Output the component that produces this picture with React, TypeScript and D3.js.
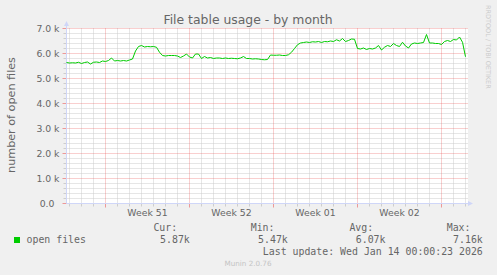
import React from "react";
import * as d3 from "d3";

// ---- data (in thousands of open files, 6-hour samples) ----
const seriesName = "open files";
const sampleStartUTC = Date.UTC(2025, 11, 11, 18, 0, 0);
const sampleStepHours = 6;
const openFilesK = [
  5.64, 5.62, 5.63, 5.62, 5.65, 5.60, 5.64, 5.66, 5.58, 5.65,
  5.66, 5.64, 5.70, 5.68, 5.72, 5.82, 5.70, 5.72, 5.70, 5.72,
  5.70, 5.74, 5.78, 6.10, 6.28, 6.32, 6.26, 6.28, 6.27, 6.28,
  6.25, 6.05, 5.92, 5.90, 5.92, 5.92, 5.92, 5.90, 5.84, 5.90,
  5.98, 5.86, 5.82, 5.98, 5.98, 5.80, 5.88, 5.82, 5.84, 5.80,
  5.82, 5.82, 5.80, 5.82, 5.80, 5.81, 5.80, 5.79, 5.82, 5.88,
  5.80, 5.80, 5.78, 5.79, 5.78, 5.76, 5.75, 5.76, 5.94, 5.93,
  5.93, 5.94, 5.92, 5.92, 5.95, 6.05, 6.20, 6.35, 6.42, 6.44,
  6.46, 6.44, 6.47, 6.46, 6.48, 6.44, 6.48, 6.47, 6.50, 6.48,
  6.55, 6.50, 6.60, 6.48, 6.52, 6.58, 6.57, 6.20, 6.18, 6.22,
  6.16, 6.20, 6.18, 6.22, 6.32, 6.14, 6.25, 6.32, 6.28, 6.40,
  6.32, 6.28, 6.45, 6.30, 6.22, 6.38, 6.42, 6.40, 6.42, 6.44,
  6.76, 6.42, 6.42, 6.40, 6.40, 6.36, 6.48, 6.52, 6.48, 6.56,
  6.54, 6.66, 6.45, 5.87,
];
const yTickValues = [0, 1000, 2000, 3000, 4000, 5000, 6000, 7000];
const yTickLabels = ["0.0", "1.0 k", "2.0 k", "3.0 k", "4.0 k", "5.0 k", "6.0 k", "7.0 k"];
const legendHeaders = ["Cur:", "Min:", "Avg:", "Max:"];
const legendValues = ["5.87k", "5.47k", "6.07k", "7.16k"];
const titleText = "File table usage - by month";
const yAxisTitle = "number of open files";
const lastUpdate = "Last update: Wed Jan 14 00:00:23 2026";
const watermark = "RRDTOOL / TOBI OETIKER";
const credit = "Munin 2.0.76";
const domainStart = new Date(Date.UTC(2025, 11, 11, 18, 0, 0));
const domainEnd = new Date(Date.UTC(2026, 0, 14, 4, 0, 0));

const W = 497;
const H = 275;
const FONT = "DejaVu Sans, sans-serif";
const MONO = "DejaVu Sans Mono, monospace";
const TXT = "#666666";
const AXIS = "#CFD6F8";
const MINOR = "#cdcdcd";
const MAJOR = "rgba(235,80,80,0.55)";

export default function App() {
  const x = d3.scaleUtc().domain([domainStart, domainEnd]).range([66.5, 467.5]);
  const y = d3.scaleLinear().domain([0, 7000]).range([203.5, 28.5]);

  const points = openFilesK.map((v, i) => ({
    t: new Date(sampleStartUTC + i * sampleStepHours * 3600 * 1000),
    v: v * 1000,
  }));
  const line = d3
    .line<{ t: Date; v: number }>()
    .x((d) => x(d.t))
    .y((d) => y(d.v));

  const days = d3.utcDay.range(domainStart, domainEnd);
  const mondays = d3.utcMonday.range(domainStart, domainEnd);
  const isMonday = (d: Date) => d.getUTCDay() === 1;
  const minorDays = days.filter((d) => !isMonday(d));
  const minorY = d3.range(0, 7001, 200).filter((v) => v % 1000 !== 0);
  const weekFmt = d3.utcFormat("Week %V");
  const weekLabels = d3.utcMonday
    .range(d3.utcMonday.offset(domainStart, -1), domainEnd)
    .map((m) => ({ m, c: new Date(m.getTime() + 3.5 * 86400000) }))
    .filter((o) => x(o.c) > 70 && x(o.c) < 465);

  const [x0, x1] = x.range();
  const [yb, yt] = y.range();

  const valueEnds = [189.8, 287.8, 385.5, 482.8];
  const headerEnds = [177.2, 274.5, 373.2, 470.5];

  return (
    <svg
      width={W}
      height={H}
      viewBox={`0 0 ${W} ${H}`}
      style={{ position: "absolute", left: 0, top: 0, display: "block" }}
    >
      <rect x={0} y={0} width={W} height={H} fill="#f0f0f0" />
      <rect x={66} y={28} width={402} height={176} fill="#ffffff" />

      {/* minor grid */}
      {minorY.map((v) => (
        <g key={"my" + v}>
          <line x1={x0} x2={x1} y1={y(v)} y2={y(v)} stroke={MINOR} strokeDasharray="1,1" />
          <line x1={x0 - 3} x2={x0} y1={y(v)} y2={y(v)} stroke={MINOR} />
        </g>
      ))}
      {minorDays.map((d) => (
        <g key={"mx" + d.getTime()}>
          <line x1={x(d)} x2={x(d)} y1={yt} y2={yb} stroke={MINOR} strokeDasharray="1,1" />
          <line x1={x(d)} x2={x(d)} y1={yb} y2={yb + 3} stroke={MINOR} />
        </g>
      ))}
      {/* major grid */}
      {yTickValues.map((v) => (
        <g key={"My" + v}>
          <line x1={x0} x2={x1} y1={y(v)} y2={y(v)} stroke={MAJOR} strokeDasharray="1,1" />
          <line x1={x0 - 4} x2={x0} y1={y(v)} y2={y(v)} stroke={MAJOR} />
        </g>
      ))}
      {mondays.map((d) => (
        <g key={"Mx" + d.getTime()}>
          <line x1={x(d)} x2={x(d)} y1={yt} y2={yb} stroke={MAJOR} strokeDasharray="1,1" />
          <line x1={x(d)} x2={x(d)} y1={yb} y2={yb + 4} stroke={MAJOR} />
        </g>
      ))}

      {/* axes */}
      <line x1={x0} x2={x0} y1={yb} y2={24} stroke={AXIS} />
      <path d={`M64,26 L69,26 L66.5,21 Z`} fill={AXIS} />
      <line x1={x0} x2={469} y1={yb} y2={yb} stroke={AXIS} />
      <path d={`M468,201 L468,206 L473,203.5 Z`} fill={AXIS} />

      {/* data line */}
      <path d={line(points) || ""} fill="none" stroke="#00CC00" strokeWidth={1} />

      {/* y tick labels */}
      {yTickValues.map((v, i) => (
        <text
          key={"yl" + v}
          x={v === 0 ? 54.5 : 59.5}
          y={y(v) + 3.3}
          textAnchor="end"
          fontFamily={FONT}
          fontSize={9.3}
          fill={TXT}
        >
          {yTickLabels[i]}
        </text>
      ))}
      {/* x labels */}
      {weekLabels.map((o) => (
        <text
          key={"xl" + o.m.getTime()}
          x={x(o.c)}
          y={215.7}
          textAnchor="middle"
          fontFamily={FONT}
          fontSize={9.3}
          fill={TXT}
        >
          {weekFmt(o.m)}
        </text>
      ))}

      {/* title */}
      <text x={248} y={24} textAnchor="middle" fontFamily={FONT} fontSize={12.4} fill={TXT}>
        {titleText}
      </text>
      {/* y axis title */}
      <text
        transform="translate(15,115) rotate(-90)"
        textAnchor="middle"
        fontFamily={FONT}
        fontSize={11.2}
        fill={TXT}
      >
        {yAxisTitle}
      </text>
      {/* watermark */}
      <text
        transform="translate(485.5,5) rotate(90)"
        textAnchor="start"
        fontFamily={FONT}
        fontSize={6.5}
        fill="#cccccc"
      >
        {watermark}
      </text>

      {/* legend */}
      <rect x={14} y={237} width={6} height={6} fill="#00CC00" />
      <text x={26.5} y={242.7} fontFamily={MONO} fontSize={9.9} fill={TXT}>
        {seriesName}
      </text>
      {legendHeaders.map((h, i) => (
        <text
          key={"lh" + i}
          x={headerEnds[i]}
          y={230.7}
          textAnchor="end"
          fontFamily={MONO}
          fontSize={9.9}
          fill={TXT}
        >
          {h}
        </text>
      ))}
      {legendValues.map((v, i) => (
        <text
          key={"lv" + i}
          x={valueEnds[i]}
          y={242.7}
          textAnchor="end"
          fontFamily={MONO}
          fontSize={9.9}
          fill={TXT}
        >
          {v}
        </text>
      ))}
      <text x={482.8} y={255} textAnchor="end" fontFamily={MONO} fontSize={9.9} fill={TXT}>
        {lastUpdate}
      </text>
      <text x={248} y={265.7} textAnchor="middle" fontFamily={FONT} fontSize={7.2} fill="#c4c4c4">
        {credit}
      </text>
    </svg>
  );
}
